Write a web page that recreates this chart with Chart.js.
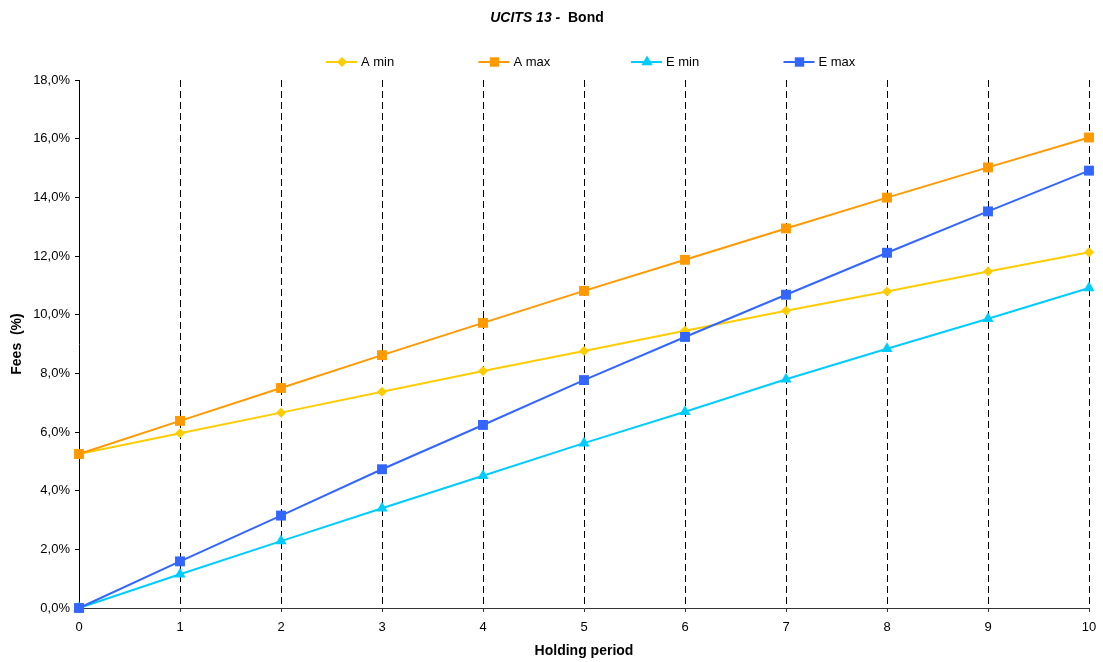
<!DOCTYPE html>
<html>
<head>
<meta charset="utf-8">
<script src="https://cdn.jsdelivr.net/npm/chart.js@4/dist/chart.umd.min.js"></script>
<style>
  html, body { margin: 0; padding: 0; background: #ffffff; }
  #wrap { width: 1103px; height: 662px; position: relative; }
</style>
</head>
<body>
<div id="wrap"><canvas id="c" width="1103" height="662"></canvas></div>
<script>
// Holding period (years) and fee levels in percent
const holdingPeriods = [0, 1, 2, 3, 4, 5, 6, 7, 8, 9, 10];
const aMin = [5.25, 5.96, 6.66, 7.37, 8.08, 8.76, 9.45, 10.13, 10.79, 11.47, 12.13];
const aMax = [5.25, 6.38, 7.50, 8.62, 9.72, 10.81, 11.87, 12.94, 13.99, 15.02, 16.04];
const eMin = [0, 1.15, 2.28, 3.40, 4.51, 5.62, 6.69, 7.80, 8.84, 9.86, 10.91];
const eMax = [0, 1.59, 3.15, 4.73, 6.24, 7.77, 9.24, 10.68, 12.11, 13.52, 14.91];
const seriesNames = ['A min', 'A max', 'E min', 'E max'];
const yTicks = [0, 2, 4, 6, 8, 10, 12, 14, 16, 18];

const FONT = '"Liberation Sans", Arial, Helvetica, sans-serif';

const styles = [
  { color: '#FFCC00', point: 'rectRot', radius: 5 },
  { color: '#FF9900', point: 'rect', radius: 7 },
  { color: '#00CCFF', point: 'triangle', radius: 6.5 },
  { color: '#3366FF', point: 'rect', radius: 7 }
];

const seriesValues = [aMin, aMax, eMin, eMax];

const datasets = seriesValues.map((vals, i) => ({
  label: seriesNames[i],
  data: holdingPeriods.map((x, k) => ({ x: x, y: vals[k] })),
  borderColor: styles[i].color,
  backgroundColor: styles[i].color,
  borderWidth: 2,
  pointStyle: styles[i].point,
  pointRadius: styles[i].radius,
  pointHoverRadius: styles[i].radius,
  pointBorderWidth: 0,
  pointBackgroundColor: styles[i].color,
  tension: 0,
  clip: false,
  order: seriesValues.length - i
}));

// Two-style title: italic series name followed by the fund type
const titlePlugin = {
  id: 'mixedTitle',
  afterDraw(chart) {
    const ctx = chart.ctx;
    ctx.save();
    ctx.fillStyle = '#000';
    ctx.textBaseline = 'middle';
    ctx.textAlign = 'left';
    const partA = 'UCITS 13 -';
    const partB = '  Bond';
    ctx.font = 'italic bold 14px ' + FONT;
    const wA = ctx.measureText(partA).width;
    ctx.font = 'bold 14px ' + FONT;
    const wB = ctx.measureText(partB).width;
    const x0 = 547 - (wA + wB) / 2;
    ctx.font = 'italic bold 14px ' + FONT;
    ctx.fillText(partA, x0, 18);
    ctx.font = 'bold 14px ' + FONT;
    ctx.fillText(partB, x0 + wA, 18);
    ctx.restore();
  }
};

// Legend entries drawn as a short line with the series marker in its middle
const legendPlugin = {
  id: 'lineLegend',
  afterDraw(chart) {
    const ctx = chart.ctx;
    const y = 62;
    ctx.save();
    chart.data.datasets.forEach((ds, i) => {
      const cx = 342 + i * 152.5;
      ctx.strokeStyle = ds.borderColor;
      ctx.lineWidth = 2;
      ctx.beginPath();
      ctx.moveTo(cx - 16, y);
      ctx.lineTo(cx + 15, y);
      ctx.stroke();
      ctx.fillStyle = ds.backgroundColor;
      ctx.strokeStyle = ds.backgroundColor;
      Chart.helpers.drawPoint(ctx, {
        pointStyle: ds.pointStyle,
        radius: ds.pointStyle === 'rect' ? ds.pointRadius * 0.95 : ds.pointRadius,
        borderWidth: 0,
        rotation: 0
      }, cx, y);
      ctx.fillStyle = '#000';
      ctx.font = '13px ' + FONT;
      ctx.textBaseline = 'middle';
      ctx.textAlign = 'left';
      ctx.fillText(ds.label, cx + 19, y + 0.5);
    });
    ctx.restore();
  }
};

new Chart(document.getElementById('c'), {
  type: 'line',
  data: { datasets: datasets },
  plugins: [titlePlugin, legendPlugin],
  options: {
    responsive: false,
    animation: false,
    devicePixelRatio: 1,
    layout: { padding: { top: 80, right: 14, bottom: 0, left: 0 } },
    plugins: {
      legend: { display: false },
      title: { display: false },
      tooltip: { enabled: false }
    },
    elements: { line: { borderJoinStyle: 'miter' } },
    scales: {
      x: {
        type: 'linear',
        min: 0,
        max: 10,
        afterFit(scale) {
          scale.height = 54;
          scale.paddingLeft = 0;
          scale.paddingRight = 0;
        },
        ticks: {
          stepSize: 1,
          color: '#000',
          padding: 8,
          font: { family: FONT, size: 13 },
          maxRotation: 0,
          callback: (v) => String(v)
        },
        grid: {
          display: true,
          drawOnChartArea: true,
          drawTicks: true,
          tickLength: 4,
          color: (c) => (c.tick && c.tick.value === 0) ? 'rgba(0,0,0,0)' : '#000',
          tickColor: '#333',
          lineWidth: 1,
          tickBorderDash: []
        },
        border: { display: true, color: '#333', width: 1, dash: [7, 4] },
        title: {
          display: true,
          text: 'Holding period',
          color: '#000',
          font: { family: FONT, size: 14, weight: 'bold' },
          padding: { top: 0, bottom: 2.5 }
        }
      },
      y: {
        type: 'linear',
        min: 0,
        max: 18,
        afterFit(scale) {
          scale.width = 79;
          scale.paddingTop = 0;
          scale.paddingBottom = 0;
        },
        afterBuildTicks(scale) { scale.ticks = yTicks.map(v => ({ value: v })); },
        ticks: {
          color: '#000',
          padding: 5,
          font: { family: FONT, size: 13 },
          callback: (v) => v.toFixed(1).replace('.', ',') + '%'
        },
        grid: {
          display: true,
          drawOnChartArea: false,
          drawTicks: true,
          tickLength: 4,
          tickColor: '#000',
          lineWidth: 1
        },
        border: { display: true, color: '#000', width: 1 },
        title: {
          display: true,
          text: 'Fees  (%)',
          color: '#000',
          font: { family: FONT, size: 14, weight: 'bold' },
          padding: { top: 9, bottom: 0 }
        }
      }
    }
  }
});
</script>
</body>
</html>
